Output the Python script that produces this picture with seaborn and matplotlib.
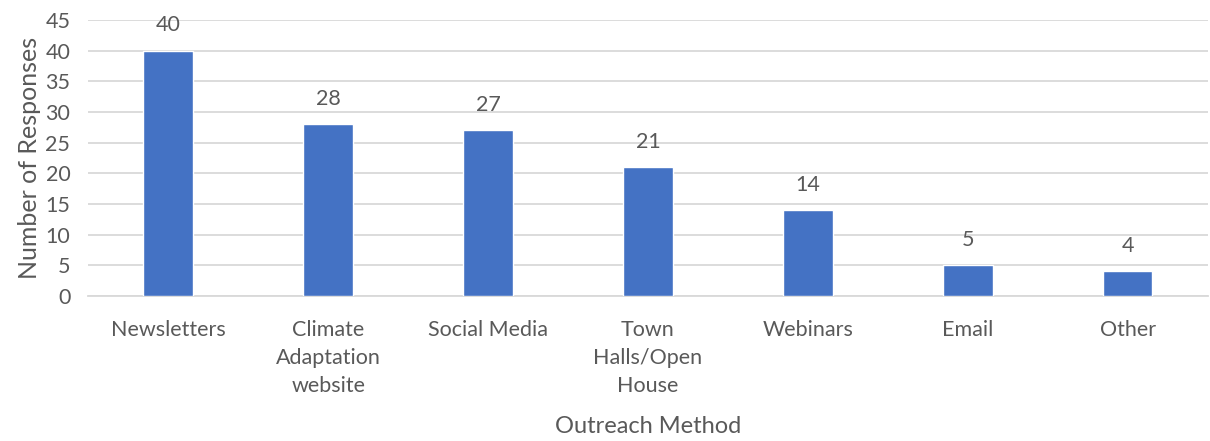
import matplotlib
matplotlib.use("Agg")
import matplotlib.pyplot as plt
import seaborn as sns
import pandas as pd

# Data
methods = ["Newsletters", "Climate\nAdaptation\nwebsite", "Social Media",
           "Town\nHalls/Open\nHouse", "Webinars", "Email", "Other"]
responses = [40, 28, 27, 21, 14, 5, 4]
y_ticks = list(range(0, 50, 5))

BAR_COLOR = "#4472C4"
TEXT_COLOR = "#595959"
GRID_COLOR = "#D9D9D9"

sns.set_theme(style="white")
plt.rcParams["font.family"] = ["Lato", "DejaVu Sans"]

df = pd.DataFrame({"method": methods, "responses": responses})

fig = plt.figure(figsize=(12.1, 4.41), dpi=100)
ax = fig.add_axes([0.073, 0.329, 0.925, 0.626])

sns.barplot(data=df, x="method", y="responses", color=BAR_COLOR,
            width=0.31, saturation=1, ax=ax, zorder=3)

ax.set_ylim(0, 45)
ax.set_yticks(y_ticks)
ax.set_xlim(-0.5, len(methods) - 0.5)
ax.yaxis.grid(True, color=GRID_COLOR, linewidth=1.3, zorder=0)
ax.set_axisbelow(True)
for s in ["top", "right", "left"]:
    ax.spines[s].set_visible(False)
ax.spines["bottom"].set_color(GRID_COLOR)
ax.spines["bottom"].set_linewidth(1.3)

ax.tick_params(axis="both", length=0, labelsize=15.5, colors=TEXT_COLOR)
ax.tick_params(axis="x", pad=17.5)
ax.tick_params(axis="y", pad=13)
for lbl in ax.get_xticklabels():
    lbl.set_linespacing(1.5)
    lbl.set_verticalalignment("top")

ax.set_xlabel("Outreach Method", fontsize=17, color=TEXT_COLOR, labelpad=14)
ax.set_ylabel("Number of Responses", fontsize=18, color=TEXT_COLOR, labelpad=3)

for container in ax.containers:
    ax.bar_label(container, padding=11, fontsize=15.5, color=TEXT_COLOR)

fig.savefig("out.png", dpi=100)
